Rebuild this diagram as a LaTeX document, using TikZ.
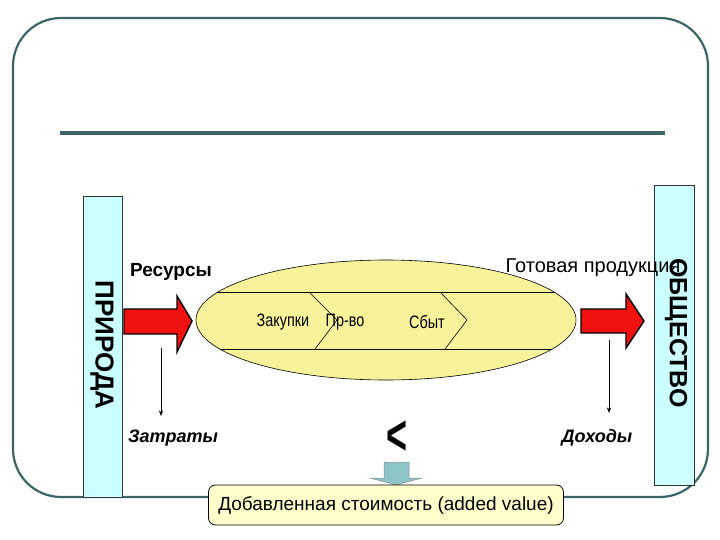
\documentclass[tikz,border=0pt]{standalone}
\usepackage{fontspec}
\setmainfont{Liberation Sans}
\usetikzlibrary{arrows.meta, positioning, calc, shapes.geometric}

\definecolor{FrameTeal}{HTML}{3C6666}
\definecolor{SideCyan}{HTML}{CCFFFF}
\definecolor{CoreYellow}{HTML}{F8F39A}
\definecolor{NoteYellow}{HTML}{FFFFCC}
\definecolor{FlowRed}{HTML}{F21111}
\definecolor{DropTeal}{HTML}{8DC6C6}

\begin{document}
\begin{tikzpicture}[x=1pt, y=-1pt, >=Stealth,
    sidebox/.style={draw=black!80, fill=SideCyan, line width=0.8pt},
    sidetext/.style={font=\fontsize{26}{26}\selectfont\bfseries, rotate=-90},
    flowlabel/.style={font=\fontsize{19}{19}\selectfont\bfseries},
    costlabel/.style={font=\fontsize{18}{18}\selectfont\bfseries\itshape},
    stagelabel/.style={font=\fontsize{18}{18}\selectfont, xscale=0.8, inner sep=0pt},
    bigflow/.style={fill=FlowRed, draw=black, line width=1.4pt, line join=miter},
    thinflow/.style={->, line width=0.6pt, shorten >=0pt}]
  \useasboundingbox (0,0) rectangle (720,540);
  % outer frame and title rule
  \draw[FrameTeal, line width=2.2pt, rounded corners=48pt] (13,18) rectangle (708,497);
  \draw[FrameTeal, line width=3.5pt] (60,133) -- (665,133);
  % side blocks
  \draw[sidebox] (83,196) rectangle (122,497);
  \node[sidetext] (nature) at (102,345) {ПРИРОДА};
  \draw[sidebox] (654,185) rectangle (694,485);
  \node[sidetext, font=\fontsize{25}{25}\selectfont\bfseries] (society) at (676,333) {ОБЩЕСТВО};
  % core process
  \node[draw=black, fill=CoreYellow, ellipse, line width=0.6pt,
        minimum width=380pt, minimum height=120pt, inner sep=0pt] (core) at (386,320) {};
  \begin{scope}
    \clip (386,320) ellipse [x radius=190pt, y radius=60pt];
    \draw[line width=0.6pt] (180,292) -- (600,292);
    \draw[line width=0.6pt] (180,349) -- (600,349);
    \draw[line width=0.6pt] (309,292) -- (337,320) -- (315,349);
    \draw[line width=0.6pt] (440,292) -- (467,320) -- (445,349);
  \end{scope}
  \node[stagelabel] (buy) at (283,322) {Закупки};
  \node[stagelabel] (make) at (345,322) {Пр-во};
  \node[stagelabel] (sell) at (427,322) {Сбыт};
  % resource and product flows
  \filldraw[bigflow] (124,309) -- (177,309) -- (177,296) -- (192,321)
    -- (177,352) -- (177,334) -- (124,334) -- cycle;
  \filldraw[bigflow] (581,309) -- (626,309) -- (626,294) -- (644,321)
    -- (626,348) -- (626,333) -- (581,333) -- cycle;
  \node[flowlabel] (res) at (171,272) {Ресурсы};
  \node[font=\fontsize{20}{20}\selectfont] (prod) at (593,268) {Готовая продукция};
  % costs and incomes
  \node[costlabel] (cost) at (173,438) {Затраты};
  \node[costlabel] (income) at (597,438) {Доходы};
  \coordinate (costtop) at (161,348);
  \coordinate (costend) at (161,416);
  \coordinate (inctop) at (609,340);
  \coordinate (incend) at (609,413);
  \draw[thinflow] (costtop) -- (costend);
  \draw[thinflow] (inctop) -- (incend);
  % value added
  \node[font=\fontsize{40}{40}\selectfont\bfseries, xscale=0.9, yscale=1.4] (gap) at (397,438) {<};
  \filldraw[fill=DropTeal, draw=black!45, line width=0.5pt]
    (384,462) -- (409,462) -- (409,478) -- (422,478) -- (396,485)
    -- (370,478) -- (384,478) -- cycle;
  \node[draw=black, fill=NoteYellow, rounded corners=7pt, line width=0.8pt,
        minimum width=355pt, minimum height=40pt, font=\fontsize{19}{19}\selectfont]
        (added) at (386,505) {Добавленная стоимость (added value)};
\end{tikzpicture}
\end{document}
